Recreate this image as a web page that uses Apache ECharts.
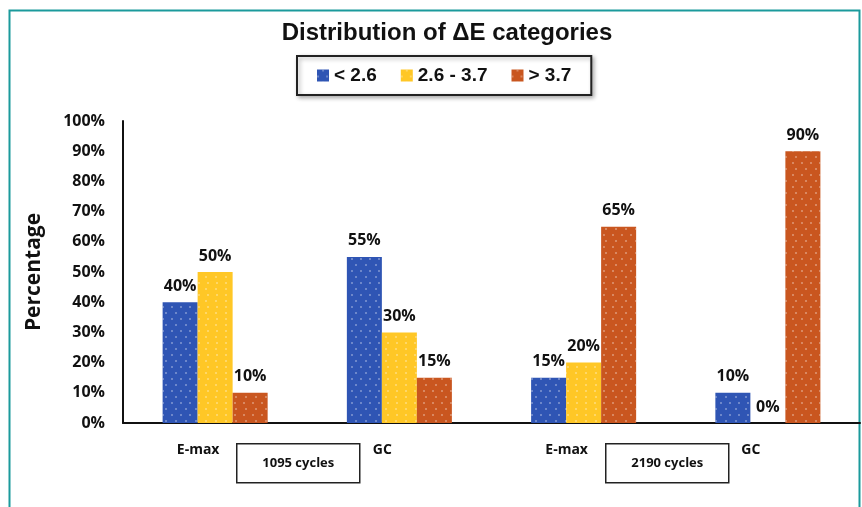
<!DOCTYPE html>
<html>
<head>
<meta charset="utf-8">
<script src="https://cdn.jsdelivr.net/npm/echarts@6/dist/echarts.min.js"></script>
<style>
    html, body { margin: 0; padding: 0; background: #fff; }
    #main { width: 862px; height: 507px; }
</style>
</head>
<body>
<div id="main"></div>
<script>
var categories = ['E-max', 'GC', 'E-max', 'GC'];
var seriesNames = ['< 2.6', '2.6 - 3.7', '> 3.7'];
var lowValues = [40, 55, 15, 10];
var midValues = [50, 30, 20, 0];
var highValues = [10, 15, 65, 90];
var groupLabels = ['1095 cycles', '2190 cycles'];
var colors = ['#2f55b4', '#ffc726', '#c9561f'];

var labelFont = 'Open Sans';

// white dots, every other row shifted half a step
var dots = {
    symbol: 'circle',
    symbolSize: 1,
    color: 'rgba(255,255,255,0.4)',
    dashArrayX: [[2, 7], [0, 4.5, 2, 2.5]],
    dashArrayY: [2, 3.5],
    rotation: 0
};

function makeSeries(name, values, color) {
    return {
        name: name,
        type: 'bar',
        data: values,
        barGap: '0%',
        barCategoryGap: '43%',
        itemStyle: { color: color, decal: dots },
        label: {
            show: true,
            position: 'top',
            distance: 8,
            formatter: '{c}%',
            fontFamily: labelFont,
            fontWeight: 'bold',
            fontSize: 16,
            color: '#111'
        }
    };
}

// boxes under the category axis
function groupBox(x, text) {
    return {
        type: 'group',
        left: x,
        top: 443,
        children: [{
            type: 'rect',
            shape: { x: 0, y: 0, width: 123, height: 39 },
            style: { fill: '#fff', stroke: '#222', lineWidth: 1.5 }
        }, {
            type: 'text',
            x: 61.5,
            y: 19.5,
            style: {
                text: text,
                align: 'center',
                verticalAlign: 'middle',
                font: 'bold 13px "Open Sans"',
                fill: '#111'
            }
        }]
    };
}

var chart = echarts.init(document.getElementById('main'));
var option = {
    backgroundColor: '#fff',
    aria: { enabled: true, decal: { show: true } },
    title: {
        text: 'Distribution of ΔE categories',
        left: 442,
        top: 16,
        textAlign: 'center',
        textStyle: {
            fontFamily: 'Liberation Sans',
            fontWeight: 'bold',
            fontSize: 24,
            color: '#111'
        }
    },
    legend: {
        data: seriesNames,
        left: 297,
        top: 56,
        padding: [10, 20, 10, 20],
        itemGap: 24,
        itemWidth: 12,
        itemHeight: 12,
        icon: 'rect',
        borderColor: '#222',
        borderWidth: 2,
        backgroundColor: '#fff',
        shadowBlur: 4,
        shadowColor: 'rgba(0,0,0,0.3)',
        shadowOffsetX: 2,
        shadowOffsetY: 2,
        textStyle: {
            fontFamily: 'Liberation Sans',
            fontWeight: 'bold',
            fontSize: 19,
            color: '#111'
        }
    },
    grid: { left: 123, right: 2, top: 121, bottom: 84 },
    xAxis: {
        type: 'category',
        data: categories,
        axisLine: { lineStyle: { color: '#111', width: 2 } },
        axisTick: { show: false },
        axisLabel: {
            margin: 20,
            padding: [0, 34, 0, 0],
            fontFamily: labelFont,
            fontWeight: 'bold',
            fontSize: 14,
            color: '#111'
        }
    },
    yAxis: {
        type: 'value',
        min: 0,
        max: 100,
        interval: 10,
        name: 'Percentage',
        nameLocation: 'middle',
        nameGap: 78,
        nameTextStyle: {
            fontFamily: labelFont,
            fontWeight: 'bold',
            fontSize: 21,
            color: '#111'
        },
        axisLine: { show: true, lineStyle: { color: '#111', width: 2 } },
        axisTick: { show: false },
        splitLine: { show: false },
        axisLabel: {
            margin: 18,
            formatter: '{value}%',
            fontFamily: labelFont,
            fontWeight: 'bold',
            fontSize: 16,
            color: '#111'
        }
    },
    series: [
        makeSeries(seriesNames[0], lowValues, colors[0]),
        makeSeries(seriesNames[1], midValues, colors[1]),
        makeSeries(seriesNames[2], highValues, colors[2])
    ],
    graphic: [
        {
            type: 'rect',
            left: 7,
            top: 8,
            shape: { width: 850, height: 540 },
            style: { fill: 'none', stroke: '#1b9a9c', lineWidth: 2 },
            silent: true
        },
        groupBox(236, groupLabels[0]),
        groupBox(605, groupLabels[1])
    ]
};
chart.setOption(option);
</script>
</body>
</html>
